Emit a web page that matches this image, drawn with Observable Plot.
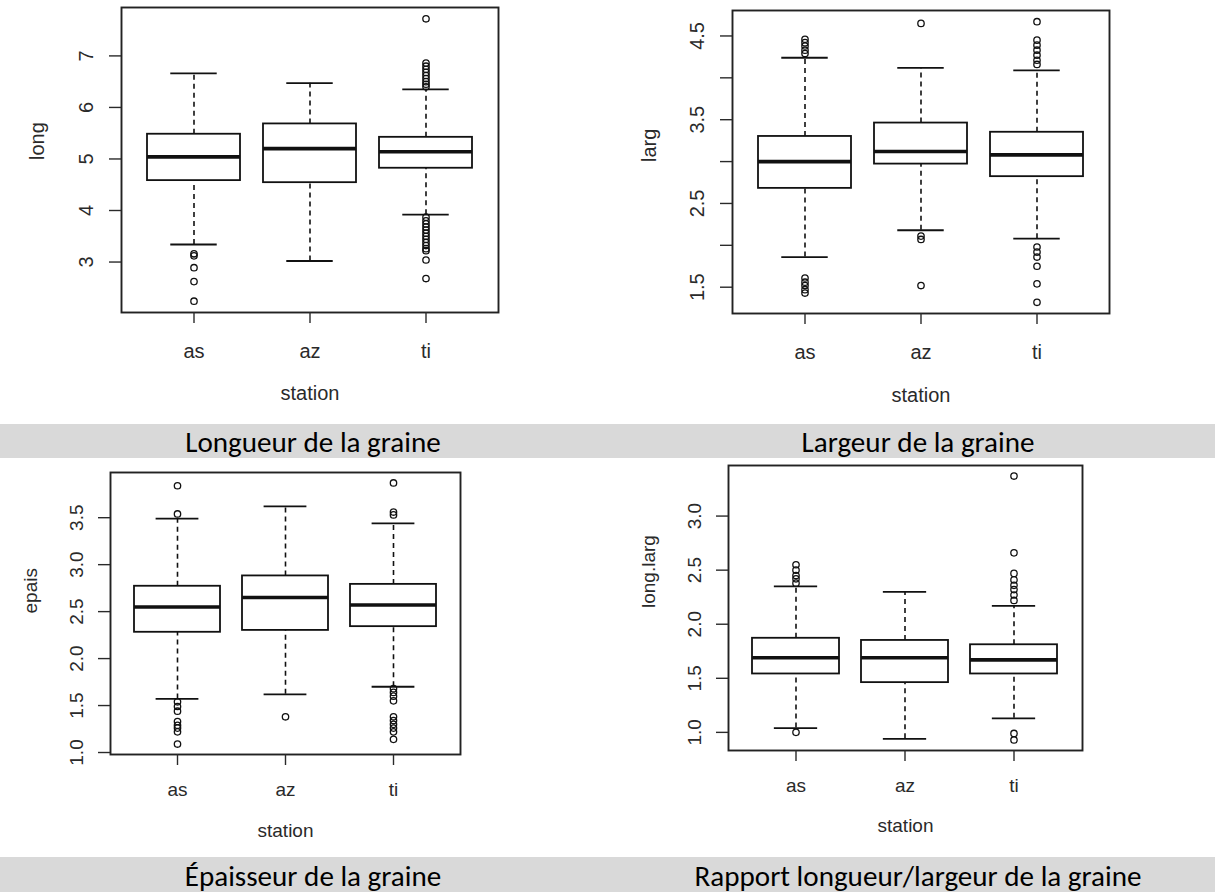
<!DOCTYPE html>
<html>
<head>
<meta charset="utf-8">
<script src="https://cdn.jsdelivr.net/npm/d3@7"></script>
<script src="https://cdn.jsdelivr.net/npm/@observablehq/plot@0.6"></script>
<style>
  html, body { margin: 0; padding: 0; background: #fff; }
  body { width: 1215px; height: 892px; position: relative; overflow: hidden; }
  .panel { position: absolute; }
  .bar { position: absolute; background: #d9d9d9; }
  .cap { position: absolute; font-family: Carlito, "Open Sans", sans-serif; font-weight: 400; color: #000;
         white-space: nowrap; transform: translate(-50%, -50%); line-height: 1.2; }
</style>
</head>
<body>
<script>
const stations = ["as", "az", "ti"];

// Longueur de la graine (long)
const longLow  = [3.34, 3.02, 3.92];
const longQ1   = [4.58, 4.54, 4.82];
const longMed  = [5.04, 5.20, 5.14];
const longQ3   = [5.48, 5.68, 5.42];
const longHigh = [6.66, 6.47, 6.35];
const longOutAs = [3.16, 3.12, 2.89, 2.62, 2.24];
const longOutAz = [];
const longOutTi = [7.72, 6.86, 6.80, 6.74, 6.68, 6.62, 6.56, 6.50, 6.45, 6.40,
                   3.87, 3.80, 3.74, 3.68, 3.62, 3.56, 3.50, 3.44, 3.38, 3.32, 3.26, 3.22, 3.04, 2.68];
const longTicks = [3, 4, 5, 6, 7];
const longTickLabels = ["3", "4", "5", "6", "7"];

// Largeur de la graine (larg)
const largLow  = [1.86, 2.18, 2.08];
const largQ1   = [2.68, 2.97, 2.82];
const largMed  = [3.00, 3.12, 3.08];
const largQ3   = [3.30, 3.46, 3.35];
const largHigh = [4.24, 4.12, 4.09];
const largOutAs = [4.46, 4.42, 4.38, 4.33, 4.29, 1.61, 1.56, 1.52, 1.47, 1.43];
const largOutAz = [4.65, 2.11, 2.07, 1.52];
const largOutTi = [4.67, 4.45, 4.39, 4.33, 4.27, 4.21, 4.16, 1.98, 1.92, 1.86, 1.75, 1.54, 1.32];
const largTicks = [1.5, 2, 2.5, 3, 3.5, 4, 4.5];
const largTickLabels = ["1.5", "", "2.5", "", "3.5", "", "4.5"];

// Épaisseur de la graine (epais)
const epaisLow  = [1.57, 1.62, 1.70];
const epaisQ1   = [2.28, 2.30, 2.34];
const epaisMed  = [2.55, 2.65, 2.57];
const epaisQ3   = [2.77, 2.88, 2.79];
const epaisHigh = [3.49, 3.62, 3.44];
const epaisOutAs = [3.84, 3.54, 1.54, 1.49, 1.44, 1.33, 1.29, 1.26, 1.22, 1.09];
const epaisOutAz = [1.38];
const epaisOutTi = [3.87, 3.56, 3.53, 1.68, 1.64, 1.60, 1.55, 1.38, 1.34, 1.30, 1.26, 1.22, 1.14];
const epaisTicks = [1, 1.5, 2, 2.5, 3, 3.5];
const epaisTickLabels = ["1.0", "1.5", "2.0", "2.5", "3.0", "3.5"];

// Rapport longueur/largeur (long.larg)
const ratioLow  = [1.04, 0.94, 1.13];
const ratioQ1   = [1.54, 1.46, 1.54];
const ratioMed  = [1.69, 1.69, 1.67];
const ratioQ3   = [1.87, 1.85, 1.81];
const ratioHigh = [2.35, 2.30, 2.17];
const ratioOutAs = [2.55, 2.50, 2.45, 2.42, 2.38, 1.00];
const ratioOutAz = [];
const ratioOutTi = [3.37, 2.66, 2.47, 2.41, 2.36, 2.32, 2.27, 2.22, 0.99, 0.93];
const ratioTicks = [1, 1.5, 2, 2.5, 3];
const ratioTickLabels = ["1.0", "1.5", "2.0", "2.5", "3.0"];

const xTitle = "station";
const captions = ["Longueur de la graine", "Largeur de la graine",
                  "Épaisseur de la graine", "Rapport longueur/largeur de la graine"];

function boxPanel(cfg) {
  const boxes = stations.map((s, i) => ({
    station: s, low: cfg.low[i], q1: cfg.q1[i], med: cfg.med[i], q3: cfg.q3[i], high: cfg.high[i]
  }));
  const outs = [];
  cfg.outs.forEach((arr, i) => arr.forEach(v => outs.push({station: stations[i], v})));
  const all = [...cfg.low, ...cfg.high, ...outs.map(d => d.v)];
  const lo = d3.min(all), hi = d3.max(all), ext = (hi - lo) * 0.04;
  const L = cfg.layout;
  const innerW = L.width - L.ml - L.mr;
  const bandwidth = 0.8 * innerW / 3.24;
  const capInset = bandwidth / 4;
  const labelMap = new Map(cfg.ticks.map((t, i) => [t, cfg.tickLabels[i]]));
  const fs = L.fs;
  const ink = "#111";
  const chart = Plot.plot({
    width: L.width, height: L.height,
    marginLeft: L.ml, marginRight: L.mr, marginTop: L.mt, marginBottom: L.mb,
    style: {fontFamily: "'Liberation Sans', Arial, sans-serif", color: "#2a2a2a", background: "transparent", overflow: "visible"},
    x: {type: "band", domain: stations, paddingInner: 0.2, paddingOuter: 0.22, label: null},
    y: {domain: [lo - ext, hi + ext], label: null},
    marks: [
      Plot.ruleX(boxes, {x: "station", y1: "q3", y2: "high", stroke: ink, strokeWidth: 1.6, strokeDasharray: "5,4"}),
      Plot.ruleX(boxes, {x: "station", y1: "low", y2: "q1", stroke: ink, strokeWidth: 1.6, strokeDasharray: "5,4"}),
      Plot.tickY(boxes, {x: "station", y: "high", stroke: ink, strokeWidth: 1.8, insetLeft: capInset, insetRight: capInset}),
      Plot.tickY(boxes, {x: "station", y: "low", stroke: ink, strokeWidth: 1.8, insetLeft: capInset, insetRight: capInset}),
      Plot.barY(boxes, {x: "station", y1: "q1", y2: "q3", fill: "white", stroke: ink, strokeWidth: 1.8}),
      Plot.tickY(boxes, {x: "station", y: "med", stroke: ink, strokeWidth: 3.6}),
      Plot.dot(outs, {x: "station", y: "v", r: 3.2, stroke: ink, strokeWidth: 1.3, fill: "none"}),
      Plot.frame({stroke: "#222", strokeWidth: 1.9}),
      Plot.axisY({ticks: cfg.ticks, tickFormat: d => labelMap.get(d) ?? "", tickSize: 12,
                  tickRotate: -90, tickPadding: L.yPad, fontSize: fs, label: null, strokeWidth: 1.4}),
      Plot.axisX({tickSize: 11, tickPadding: L.xPad, fontSize: fs, label: null, strokeWidth: 1.4}),
      Plot.text([cfg.yTitle], {text: d => d, frameAnchor: "left", dx: L.yTitleDx, rotate: -90, fontSize: fs, fill: "#2a2a2a"}),
      Plot.text([xTitle], {text: d => d, frameAnchor: "bottom", dy: L.xTitleDy, fontSize: fs, fill: "#2a2a2a"})
    ]
  });
  const div = document.createElement("div");
  div.className = "panel";
  div.style.left = L.left + "px";
  div.style.top = L.top + "px";
  div.appendChild(chart);
  document.body.appendChild(div);
}

boxPanel({
  low: longLow, q1: longQ1, med: longMed, q3: longQ3, high: longHigh,
  outs: [longOutAs, longOutAz, longOutTi], ticks: longTicks, tickLabels: longTickLabels, yTitle: "long",
  layout: {left: 0, top: 0, width: 600, height: 424, ml: 121, mr: 102, mt: 7, mb: 112,
           fs: 20, yPad: 17, xPad: 20, yTitleDx: -84, xTitleDy: 87}
});
boxPanel({
  low: largLow, q1: largQ1, med: largMed, q3: largQ3, high: largHigh,
  outs: [largOutAs, largOutAz, largOutTi], ticks: largTicks, tickLabels: largTickLabels, yTitle: "larg",
  layout: {left: 600, top: 0, width: 615, height: 424, ml: 132, mr: 106, mt: 10, mb: 111,
           fs: 20, yPad: 17, xPad: 20, yTitleDx: -83, xTitleDy: 88}
});
boxPanel({
  low: epaisLow, q1: epaisQ1, med: epaisMed, q3: epaisQ3, high: epaisHigh,
  outs: [epaisOutAs, epaisOutAz, epaisOutTi], ticks: epaisTicks, tickLabels: epaisTickLabels, yTitle: "epais",
  layout: {left: 0, top: 458, width: 600, height: 398, ml: 110, mr: 140, mt: 14, mb: 102,
           fs: 19, yPad: 16, xPad: 17, yTitleDx: -80, xTitleDy: 82}
});
boxPanel({
  low: ratioLow, q1: ratioQ1, med: ratioMed, q3: ratioQ3, high: ratioHigh,
  outs: [ratioOutAs, ratioOutAz, ratioOutTi], ticks: ratioTicks, tickLabels: ratioTickLabels, yTitle: "long.larg",
  layout: {left: 600, top: 458, width: 615, height: 398, ml: 128, mr: 133, mt: 7, mb: 106,
           fs: 19, yPad: 16, xPad: 17, yTitleDx: -80, xTitleDy: 81}
});

// caption bars
[[424, 34], [857, 35]].forEach(([top, h]) => {
  const b = document.createElement("div");
  b.className = "bar";
  b.style.left = "0px"; b.style.width = "1215px";
  b.style.top = top + "px"; b.style.height = h + "px";
  document.body.appendChild(b);
});

// caption texts, sized to the reference widths
const capPos = [[313, 442, 254], [918, 442, 234], [313, 876, 255], [918, 876, 450]];
const ctx = document.createElement("canvas").getContext("2d");
ctx.font = "400 100px Carlito, 'Open Sans', sans-serif";
const sizes = captions.map((t, i) => 100 * capPos[i][2] / ctx.measureText(t).width);
const capSize = d3.mean(sizes);
captions.forEach((t, i) => {
  const c = document.createElement("div");
  c.className = "cap";
  c.textContent = t;
  c.style.left = capPos[i][0] + "px";
  c.style.top = capPos[i][1] + "px";
  c.style.fontSize = capSize.toFixed(1) + "px";
  document.body.appendChild(c);
});
</script>
</body>
</html>
